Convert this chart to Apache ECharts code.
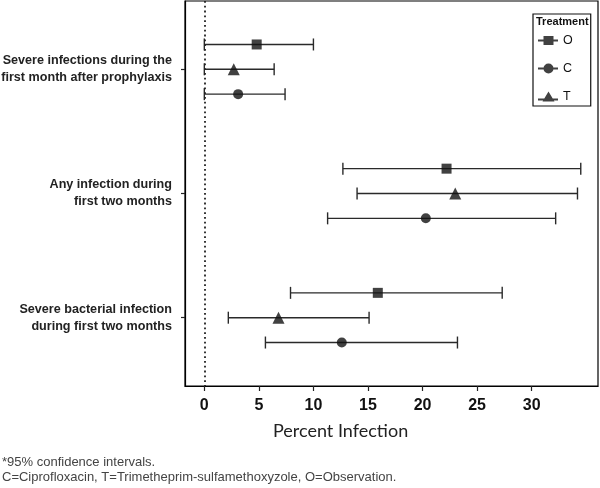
<!DOCTYPE html>
<html>
<head>
<meta charset="utf-8">
<script src="https://cdn.jsdelivr.net/npm/echarts@6/dist/echarts.min.js"></script>
<style>html,body{margin:0;padding:0;background:#fff}#c{width:600px;height:488px}</style>
</head>
<body>
<div id="c"></div>
<script>
// ---- data ----
const outcomes = [
  'Severe infections during the\nfirst month after prophylaxis',
  'Any infection during\nfirst two months',
  'Severe bacterial infection\nduring first two months'
];
const treatments = ['O', 'C', 'T'];
const xTicks = [0, 5, 10, 15, 20, 25, 30];
// point estimates and 95% CI per outcome
const estO = [4.8, 22.2, 15.9];
const lowO = [0.0, 12.7, 7.9];
const highO = [10.0, 34.5, 27.3];
const estC = [3.1, 20.3, 12.6];
const lowC = [0.0, 11.3, 5.6];
const highC = [7.4, 32.2, 23.2];
const estT = [2.7, 23.0, 6.8];
const lowT = [0.0, 14.0, 2.2];
const highT = [6.4, 34.2, 15.1];

// ---- layout helpers ----
const groupPos = [5.5, 15.5, 25.5];        // row slots of each outcome on the y scale
const rowOffset = { O: -2, T: 0, C: 2 };     // O above, T centre, C below
const symbols = { O: 'rect', C: 'circle', T: 'triangle' };
const sizes = { O: 10, C: 10, T: 12 };
const series = {
  O: { est: estO, low: lowO, high: highO },
  C: { est: estC, low: lowC, high: highC },
  T: { est: estT, low: lowT, high: highT }
};
const icons = {
  O: 'path://M0,4H20V6H0Z M5.5,0.5H15.5V9.5H5.5Z',
  C: 'path://M0,4H20V6H0Z M10.5,0A5,5 0 1 1 10.49,0Z',
  T: 'path://M0,7H20V9H0Z M10.5,0L16.5,10H4.5Z'
};

const chart = echarts.init(document.getElementById('c'), null, { renderer: 'canvas' });

const seriesList = [];
treatments.forEach(function (t) {
  const s = series[t];
  const bars = outcomes.map(function (_, i) { return [s.low[i], s.high[i], groupPos[i] + rowOffset[t]]; });
  seriesList.push({
    type: 'custom',
    name: t + '_ci',
    silent: true,
    z: 2,
    data: bars,
    encode: { x: [0, 1], y: 2 },
    renderItem: function (params, api) {
      const y = api.value(2);
      const p1 = api.coord([api.value(0), y]);
      const p2 = api.coord([api.value(1), y]);
      const h = 6;
      const st = { stroke: '#2a2a2a', lineWidth: 1.4 };
      return {
        type: 'group',
        children: [
          { type: 'line', shape: { x1: p1[0], y1: p1[1], x2: p2[0], y2: p2[1] }, style: st },
          { type: 'line', shape: { x1: p1[0], y1: p1[1] - h, x2: p1[0], y2: p1[1] + h }, style: st },
          { type: 'line', shape: { x1: p2[0], y1: p2[1] - h, x2: p2[0], y2: p2[1] + h }, style: st }
        ]
      };
    }
  });
  const sc = {
    type: 'scatter',
    name: t,
    symbol: symbols[t],
    symbolSize: sizes[t],
    itemStyle: { color: '#111' },
    z: 3,
    silent: true,
    data: outcomes.map(function (_, i) { return [s.est[i], groupPos[i] + rowOffset[t]]; })
  };
  if (t === 'O') {
    sc.markLine = {
      silent: true,
      symbol: ['none', 'none'],
      label: { show: false },
      lineStyle: { color: '#222', type: [1.8, 3], width: 1.8 },
      data: [{ xAxis: 0 }]
    };
  }
  seriesList.push(sc);
});

chart.setOption({
  animation: false,
  backgroundColor: '#fff',
  grid: { left: 185, right: 2, top: 1, bottom: 102, show: true, borderColor: '#000', borderWidth: 1.2,
          containLabel: false, outerBoundsMode: 'none' },
  title: [
    { text: 'Treatment', left: 536, top: 16, padding: 0,
      textStyle: { fontFamily: 'Liberation Sans', fontWeight: 'bold', fontSize: 11, color: '#111' } },
    { text: 'Percent Infection', left: 273, top: 422, padding: 0,
      textStyle: { fontFamily: 'Lato', fontWeight: 'normal', fontSize: 18, color: '#222' } },
    { text: '*95% confidence intervals.\nC=Ciprofloxacin, T=Trimetheprim-sulfamethoxyzole, O=Observation.', left: 2, top: 455, padding: 0,
      textStyle: { fontFamily: 'Liberation Sans', fontWeight: 'normal', fontSize: 13, lineHeight: 15, color: '#444' } }
  ],
  legend: {
    orient: 'vertical',
    left: 533, top: 14,
    padding: [20, 18, 3, 5],
    itemWidth: 20, itemHeight: 10,
    itemGap: 15,
    borderColor: '#111', borderWidth: 1.2,
    selectedMode: false,
    textStyle: { fontFamily: 'Liberation Sans', fontSize: 12.5, color: '#111' },
    data: treatments.map(function (t) { return { name: t, icon: icons[t], itemStyle: { color: '#111' } }; })
  },
  xAxis: {
    type: 'value',
    min: -1.77, max: 36.08,
    splitLine: { show: false },
    axisLine: { show: true, onZero: false, lineStyle: { color: '#000', width: 1.2 } },
    axisTick: { show: true, length: 5, customValues: xTicks, lineStyle: { color: '#222', width: 1.2 } },
    axisLabel: { customValues: xTicks, margin: 12, fontFamily: 'Liberation Sans', fontWeight: 'bold', fontSize: 16, color: '#111' }
  },
  yAxis: {
    type: 'value',
    inverse: true,
    min: 0, max: 31,
    position: 'left',
    splitLine: { show: false },
    axisLine: { show: true, onZero: false, lineStyle: { color: '#000', width: 1.2 } },
    axisTick: { show: true, length: 4, customValues: groupPos, lineStyle: { color: '#222', width: 1.2 } },
    axisLabel: {
      customValues: groupPos,
      margin: 13,
      fontFamily: 'Liberation Sans', fontWeight: 'bold', fontSize: 12.6, lineHeight: 17, color: '#222',
      align: 'right',
      formatter: function (v) { const i = groupPos.indexOf(v); return i >= 0 ? outcomes[i] : ''; }
    }
  },
  series: seriesList
});
</script>
</body>
</html>
